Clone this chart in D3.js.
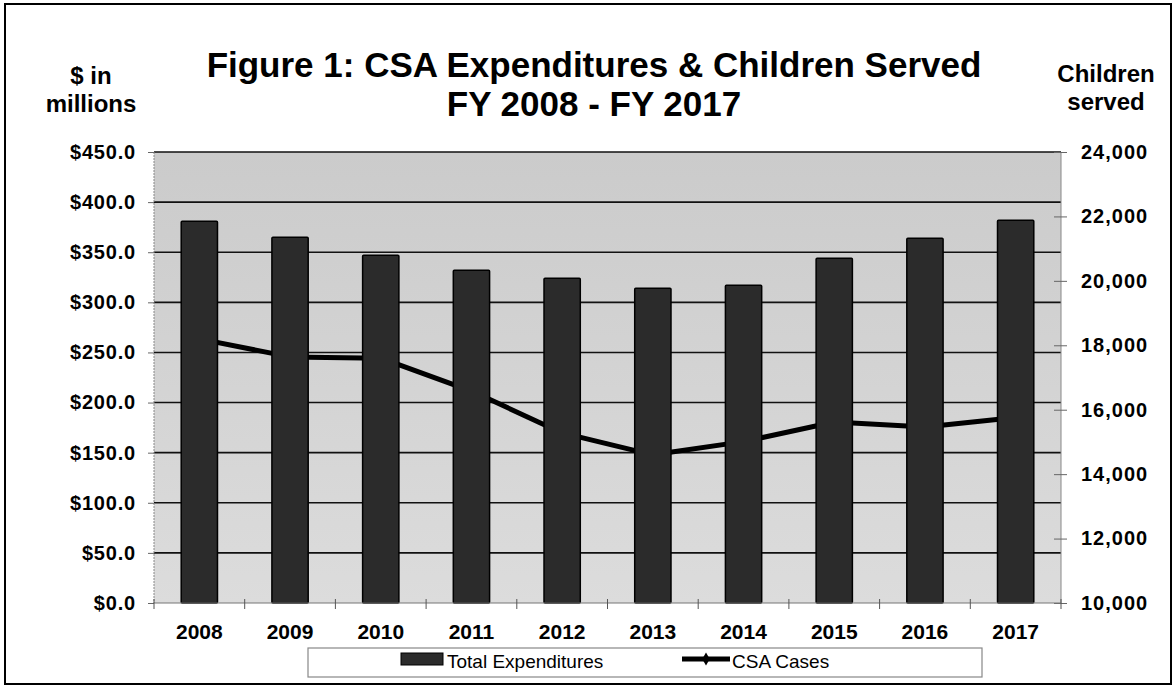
<!DOCTYPE html>
<html>
<head>
<meta charset="utf-8">
<script src="https://cdn.jsdelivr.net/npm/d3@7"></script>
<style>
  body { margin: 0; background: #fff; }
  text { font-family: Arial, "Liberation Sans", sans-serif; fill: #000; }
</style>
</head>
<body>
<div id="chart"></div>
<script>
const width = 1175;
const height = 687;

// data
const years = ["2008", "2009", "2010", "2011", "2012", "2013", "2014", "2015", "2016", "2017"];
const expenditures = [381, 365, 347, 332, 324, 314, 317, 344, 364, 382];   // $ millions
const csaCases = [18200, 17640, 17600, 16580, 15280, 14600, 15010, 15620, 15460, 15760];
const leftTicks = [0, 50, 100, 150, 200, 250, 300, 350, 400, 450];
const rightTicks = [10000, 12000, 14000, 16000, 18000, 20000, 22000, 24000];

const plot = { left: 154, right: 1061, top: 152, bottom: 603 };

const svg = d3.select("#chart").append("svg")
    .attr("width", width)
    .attr("height", height)
    .attr("viewBox", [0, 0, width, height]);

// outer frame
svg.append("rect")
    .attr("x", 5).attr("y", 4)
    .attr("width", 1166).attr("height", 680)
    .attr("fill", "none")
    .attr("stroke", "#000")
    .attr("stroke-width", 2);

const x = d3.scaleBand()
    .domain(years)
    .range([plot.left, plot.right])
    .paddingInner(0.6)
    .paddingOuter(0.3);

const yLeft = d3.scaleLinear().domain([0, 450]).range([plot.bottom, plot.top]);
const yRight = d3.scaleLinear().domain([10000, 24000]).range([plot.bottom, plot.top]);

// plot background (scanned grey)
const defs = svg.append("defs");
const grad = defs.append("linearGradient")
    .attr("id", "bg").attr("x1", 0).attr("y1", 0).attr("x2", 0).attr("y2", 1);
grad.append("stop").attr("offset", "0%").attr("stop-color", "#cbcbcb");
grad.append("stop").attr("offset", "100%").attr("stop-color", "#dcdcdc");

svg.append("rect")
    .attr("x", plot.left).attr("y", plot.top)
    .attr("width", plot.right - plot.left)
    .attr("height", plot.bottom - plot.top)
    .attr("fill", "url(#bg)");

// gridlines
svg.append("g")
    .selectAll("line")
    .data(leftTicks.filter(d => d > 0))
    .join("line")
    .attr("x1", plot.left).attr("x2", plot.right)
    .attr("y1", d => yLeft(d)).attr("y2", d => yLeft(d))
    .attr("stroke", "#111")
    .attr("stroke-width", 1.6);

// left & right plot edges
svg.append("line")
    .attr("x1", plot.left).attr("x2", plot.left)
    .attr("y1", plot.top).attr("y2", plot.bottom)
    .attr("stroke", "#888").attr("stroke-dasharray", "2,1");
svg.append("line")
    .attr("x1", plot.right).attr("x2", plot.right)
    .attr("y1", plot.top).attr("y2", plot.bottom)
    .attr("stroke", "#888");

// left axis
const leftAxis = svg.append("g")
    .attr("transform", `translate(${plot.left},0)`)
    .call(d3.axisLeft(yLeft).tickValues(leftTicks).tickSize(6).tickPadding(12)
        .tickFormat(d => "$" + d3.format(".1f")(d)));
leftAxis.select(".domain").remove();
leftAxis.selectAll(".tick line").attr("stroke", "#666");
leftAxis.selectAll("text")
    .attr("font-size", 20)
    .attr("font-weight", "bold")
    .attr("letter-spacing", 0.8)
    .attr("font-family", "Arial, 'Liberation Sans', sans-serif");

// right axis
const rightAxis = svg.append("g")
    .attr("transform", `translate(${plot.right},0)`)
    .call(d3.axisRight(yRight).tickValues(rightTicks).tickSize(6).tickPadding(14)
        .tickFormat(d3.format(",")));
rightAxis.select(".domain").remove();
rightAxis.selectAll(".tick line").attr("stroke", "#666").attr("x1", -7);
rightAxis.selectAll("text")
    .attr("font-size", 20)
    .attr("font-weight", "bold")
    .attr("letter-spacing", 1)
    .attr("font-family", "Arial, 'Liberation Sans', sans-serif");

// CSA cases line (sits behind the bars)
const line = d3.line()
    .x((d, i) => x(years[i]) + x.bandwidth() / 2)
    .y(d => yRight(d));
svg.append("path")
    .datum(csaCases)
    .attr("d", line)
    .attr("fill", "none")
    .attr("stroke", "#000")
    .attr("stroke-width", 5)
    .attr("stroke-linejoin", "round");

// bars
svg.append("g")
    .selectAll("rect")
    .data(years.map((y, i) => ({ year: y, value: expenditures[i] })))
    .join("rect")
    .attr("x", d => x(d.year))
    .attr("y", d => yLeft(d.value))
    .attr("width", x.bandwidth())
    .attr("height", d => yLeft(0) - yLeft(d.value))
    .attr("fill", "#2b2b2b")
    .attr("stroke", "#000")
    .attr("stroke-width", 1.5)
    .attr("rx", 1);

// bottom axis
const step = x.step();
const boundaries = d3.range(years.length + 1).map(i => plot.left + i * step);
svg.append("line")
    .attr("x1", plot.left).attr("x2", plot.right)
    .attr("y1", plot.bottom).attr("y2", plot.bottom)
    .attr("stroke", "#777").attr("stroke-width", 1.2);
svg.append("g")
    .selectAll("line")
    .data(boundaries)
    .join("line")
    .attr("x1", d => d).attr("x2", d => d)
    .attr("y1", plot.bottom - 4).attr("y2", plot.bottom + 6)
    .attr("stroke", "#555");
svg.append("g")
    .selectAll("text")
    .data(years)
    .join("text")
    .attr("x", d => x(d) + x.bandwidth() / 2)
    .attr("y", 639)
    .attr("text-anchor", "middle")
    .attr("font-size", 21)
    .attr("font-weight", "bold")
    .text(d => d);

// titles
svg.append("text")
    .attr("x", 594).attr("y", 77)
    .attr("text-anchor", "middle")
    .attr("font-size", 35)
    .attr("font-weight", "bold")
    .text("Figure 1: CSA Expenditures & Children Served");
svg.append("text")
    .attr("x", 594).attr("y", 116)
    .attr("text-anchor", "middle")
    .attr("font-size", 35)
    .attr("font-weight", "bold")
    .text("FY 2008 - FY 2017");

const axisTitle = (lines, cx, y0) => {
    svg.append("g").selectAll("text")
        .data(lines)
        .join("text")
        .attr("x", cx)
        .attr("y", (d, i) => y0 + i * 28)
        .attr("text-anchor", "middle")
        .attr("font-size", 24)
        .attr("font-weight", "bold")
        .text(d => d);
};
axisTitle(["$ in", "millions"], 91, 84);
axisTitle(["Children", "served"], 1106, 82);

// legend
const legend = svg.append("g");
legend.append("rect")
    .attr("x", 308).attr("y", 648)
    .attr("width", 674).attr("height", 29)
    .attr("fill", "#fff")
    .attr("stroke", "#888")
    .attr("stroke-width", 1.2);
legend.append("rect")
    .attr("x", 401).attr("y", 653)
    .attr("width", 42).attr("height", 12)
    .attr("fill", "#2b2b2b")
    .attr("stroke", "#000");
legend.append("text")
    .attr("x", 447).attr("y", 668)
    .attr("font-size", 19)
    .text("Total Expenditures");
legend.append("line")
    .attr("x1", 682).attr("x2", 730)
    .attr("y1", 659).attr("y2", 659)
    .attr("stroke", "#000")
    .attr("stroke-width", 5);
legend.append("path")
    .attr("d", d3.symbol(d3.symbolDiamond, 50)())
    .attr("transform", "translate(706,659)")
    .attr("fill", "#000");
legend.append("text")
    .attr("x", 732).attr("y", 668)
    .attr("font-size", 19)
    .text("CSA Cases");
</script>
</body>
</html>
